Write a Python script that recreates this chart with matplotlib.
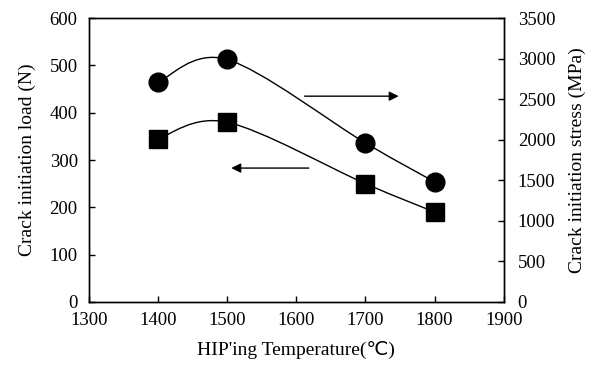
import numpy as np
import matplotlib
matplotlib.use("Agg")
import matplotlib.pyplot as plt
from matplotlib.path import Path
from matplotlib.patches import PathPatch

plt.rcParams['font.family'] = ['Liberation Serif', 'DejaVu Sans']
plt.rcParams['font.size'] = 13.5

# data
temps = [1400, 1500, 1700, 1800]
load_N = [345, 380, 250, 190]           # squares, left axis
stress_MPa = [2710, 2990, 1960, 1480]   # circles, right axis

################################################################################
def smooth_path(xs, ys):
    # Catmull-Rom style bezier through the points (like a spreadsheet "smoothed line")
    pts = np.column_stack([xs, ys]).astype(float)
    n = len(pts)
    verts = [pts[0]]
    codes = [Path.MOVETO]
    for i in range(n - 1):
        p0 = pts[i - 1] if i > 0 else pts[i]
        p1 = pts[i]
        p2 = pts[i + 1]
        p3 = pts[i + 2] if i + 2 < n else pts[i + 1]
        c1 = p1 + (p2 - p0) / 6.0
        c2 = p2 - (p3 - p1) / 6.0
        verts += [c1, c2, p2]
        codes += [Path.CURVE4] * 3
    return Path(verts, codes)

################################################################################
fig = plt.figure(figsize=(5.92, 3.70), dpi=100)
ax = fig.add_axes([0.150, 0.184, 0.701, 0.767])
ax2 = ax.twinx()

ax.add_patch(PathPatch(smooth_path(temps, load_N), fill=False, lw=1.0, color="black"))
ax.plot(temps, load_N, "ks", ms=13, ls="none")

ax2.add_patch(PathPatch(smooth_path(temps, stress_MPa), fill=False, lw=1.0, color="black"))
ax2.plot(temps, stress_MPa, "ko", ms=13.5, ls="none")

ax.set_xlim(1300, 1900)
ax.set_ylim(0, 600)
ax2.set_ylim(0, 3500)
ax.set_xticks(range(1300, 1901, 100))
ax.set_yticks(range(0, 601, 100))
ax2.set_yticks(range(0, 3501, 500))

ax.tick_params(axis="x", direction="in", length=4, width=1, pad=7)
ax.tick_params(axis="y", direction="in", length=4, width=1, pad=8)
ax2.tick_params(axis="y", direction="in", length=4, width=1, pad=10)
for a in (ax, ax2):
    for s in a.spines.values():
        s.set_linewidth(1.0)

ax.set_xlabel("HIP'ing Temperature(℃)", fontsize=14, labelpad=9)
ax.set_ylabel("Crack initiation load (N)", fontsize=14, labelpad=10)
ax2.set_ylabel("Crack initiation stress (MPa)", fontsize=14, labelpad=10)

# arrows showing which axis each curve belongs to
ax.annotate("", xy=(1748, 435), xytext=(1612, 435),
            arrowprops=dict(arrowstyle="-|>", color="black", lw=1.0,
                            mutation_scale=14, shrinkA=0, shrinkB=0))
ax.annotate("", xy=(1506, 283), xytext=(1618, 283),
            arrowprops=dict(arrowstyle="-|>", color="black", lw=1.0,
                            mutation_scale=14, shrinkA=0, shrinkB=0))

fig.savefig("out.png", dpi=100)
